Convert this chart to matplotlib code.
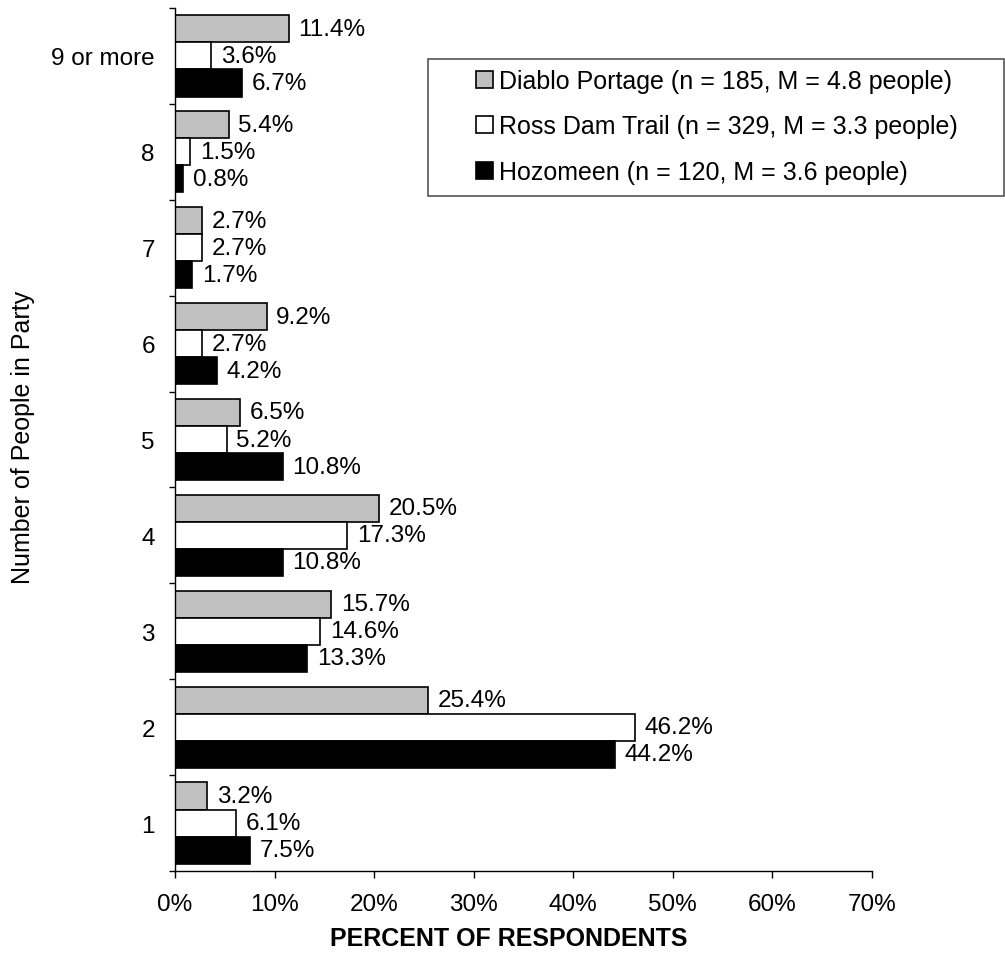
import matplotlib
matplotlib.use("Agg")
import matplotlib.pyplot as plt
from matplotlib.patches import Patch, Rectangle
import numpy as np

plt.rcParams['font.family'] = ['Liberation Sans', 'DejaVu Sans']

categories = ['1', '2', '3', '4', '5', '6', '7', '8', '9 or more']
diablo = [3.2, 25.4, 15.7, 20.5, 6.5, 9.2, 2.7, 5.4, 11.4]
ross = [6.1, 46.2, 14.6, 17.3, 5.2, 2.7, 2.7, 1.5, 3.6]
hozomeen = [7.5, 44.2, 13.3, 10.8, 10.8, 4.2, 1.7, 0.8, 6.7]
series_labels = ['Diablo Portage (n = 185, M = 4.8 people)',
                 'Ross Dam Trail (n = 329, M = 3.3 people)',
                 'Hozomeen (n = 120, M = 3.6 people)']
series_colors = ['#c0c0c0', '#ffffff', '#000000']
xticks = [0, 10, 20, 30, 40, 50, 60, 70]

W, H = 1005, 954
fig = plt.figure(figsize=(W / 100, H / 100), dpi=100)
ax = fig.add_axes([175 / W, (H - 872) / H, (872 - 175) / W, (872 - 9) / H])

y = np.arange(len(categories))
bh = 0.282
offsets = [bh, 0, -bh]
fs = 17.5
for vals, col, off in zip([diablo, ross, hozomeen], series_colors, offsets):
    ax.barh(y + off, vals, height=bh, color=col, edgecolor='black', linewidth=1.2)
    for yi, v in zip(y, vals):
        ax.annotate(f'{v:.1f}%', xy=(v, yi + off), xytext=(7, 0), textcoords='offset points',
                    va='center', ha='left', fontsize=fs)

ax.set_xlim(0, 70)
ax.set_ylim(-0.5, len(categories) - 0.5)
ax.set_xticks(xticks)
ax.set_xticklabels([f'{t}%' for t in xticks], fontsize=fs)
ax.set_yticks(y)
ax.set_yticklabels(categories, fontsize=fs)
ax.set_yticks(np.arange(-0.5, len(categories), 1.0), minor=True)
ax.tick_params(axis='y', which='major', length=0, pad=14.5)
ax.tick_params(axis='y', which='minor', length=4, width=1, direction='out')
ax.tick_params(axis='x', which='major', length=5, width=1, direction='out', pad=11)
for s in ['top', 'right']:
    ax.spines[s].set_visible(False)
for s in ['left', 'bottom']:
    ax.spines[s].set_linewidth(1)

ax.set_xlabel('PERCENT OF RESPONDENTS', fontsize=18, fontweight='bold')
ax.xaxis.set_label_coords((508.5 - 175) / 697, (872 - 939) / 863)
ax.xaxis.label.set_va('center')
ax.set_ylabel('Number of People in Party', fontsize=18)
ax.yaxis.set_label_coords((23 - 175) / 697, (872 - 437) / 863)
ax.yaxis.label.set_va('center')

# legend frame
fig.patches.append(Rectangle((428 / W, (H - 197) / H), (1003.5 - 428) / W, (197 - 60) / H,
                             transform=fig.transFigure, facecolor='white',
                             edgecolor='#555555', linewidth=1.2, zorder=2))
handles = [Patch(facecolor=c, edgecolor='black', linewidth=1.2) for c in series_colors]
leg = fig.legend(handles, series_labels, loc='upper left',
                 bbox_to_anchor=(476 / W, (H - 70) / H), bbox_transform=fig.transFigure,
                 frameon=False, borderpad=0, borderaxespad=0, fontsize=18,
                 handlelength=0.68, handleheight=0.68, handletextpad=0.25,
                 labelspacing=0.86)
leg.set_zorder(3)

fig.savefig('out.png', dpi=100)
